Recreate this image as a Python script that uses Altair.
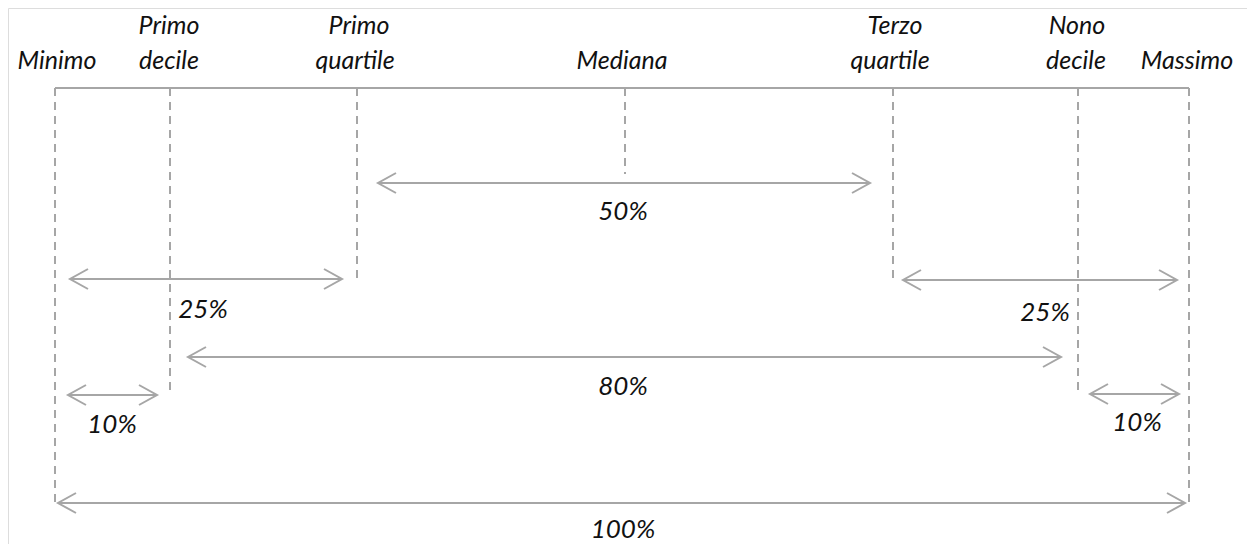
import altair as alt
import pandas as pd

# ---- data (image pixel coordinates) ----
# markers: vertical dashed lines
marker_names = ["Minimo", "Primo decile", "Primo quartile", "Mediana",
                "Terzo quartile", "Nono decile", "Massimo"]
marker_x = [55, 170, 357, 625, 893, 1078, 1189]
marker_bottom = [503, 390, 278, 174, 278, 391, 503]
top_y = 88

# marker labels (one row per text line)
label_text = ["Minimo", "Primo", "decile", "Primo", "quartile", "Mediana",
              "Terzo", "quartile", "Nono", "decile", "Massimo"]
label_x = [57, 169, 169, 359, 355, 622, 895, 890, 1077, 1076, 1187]
label_y = [69, 34, 69, 34, 69, 69, 34, 69, 34, 69, 69]

# arrows
arrow_pct = ["50%", "25%", "25%", "80%", "10%", "10%", "100%"]
arrow_x1 = [378, 70, 903, 188, 68, 1090, 58]
arrow_x2 = [870, 342, 1177, 1061, 157, 1179, 1185]
arrow_y = [183, 279, 280, 357, 395, 394, 503]
pct_x = [623, 203, 1045, 623, 112, 1137, 623]
pct_y = [220, 318, 321, 395, 433, 431, 538]

GRAY = "#a6a6a6"
TXT = "#111111"
FONT = "Lato"

markers = pd.DataFrame({"name": marker_names, "x": marker_x,
                        "y": [top_y] * len(marker_x), "y2": marker_bottom})
labels = pd.DataFrame({"t": label_text, "x": label_x, "y": label_y})
arrows = pd.DataFrame({"p": arrow_pct, "x1": arrow_x1, "x2": arrow_x2, "y": arrow_y})
pcts = pd.DataFrame({"p": arrow_pct, "x": pct_x, "y": pct_y})
heads = pd.DataFrame({
    "x": arrow_x2 + arrow_x1,
    "y": arrow_y + arrow_y,
    "ang": [0] * len(arrow_x2) + [180] * len(arrow_x1),
})
topline = pd.DataFrame({"x": [marker_x[0]], "x2": [marker_x[-1]], "y": [top_y]})

xs = alt.Scale(domain=[8, 1247])
ys = alt.Scale(domain=[8, 544], reverse=True)
X = lambda f: alt.X(f, type="quantitative", scale=xs, axis=None)
Y = lambda f: alt.Y(f, type="quantitative", scale=ys, axis=None)

top = alt.Chart(topline).mark_rule(color=GRAY, strokeWidth=2).encode(
    x=X("x"), x2="x2", y=Y("y"))

vlines = alt.Chart(markers).mark_rule(color=GRAY, strokeWidth=2, strokeDash=[8, 6]).encode(
    x=X("x"), y=Y("y"), y2="y2")

shafts = alt.Chart(arrows).mark_rule(color=GRAY, strokeWidth=2).encode(
    x=X("x1"), x2="x2", y=Y("y"))

chev = alt.Chart(heads).mark_point(
    shape="M-1.8,-1L0,0L-1.8,1", filled=False, stroke=GRAY, strokeWidth=2,
    size=400, opacity=1,
).encode(x=X("x"), y=Y("y"), angle=alt.Angle("ang:Q", scale=None))

lab = alt.Chart(labels).mark_text(
    font=FONT, fontStyle="italic", fontSize=25, color=TXT,
    align="center", baseline="alphabetic",
).encode(x=X("x"), y=Y("y"), text="t:N")

pct = alt.Chart(pcts).mark_text(
    font=FONT, fontStyle="italic", fontSize=26, color=TXT,
    align="center", baseline="alphabetic",
).encode(x=X("x"), y=Y("y"), text="p:N")

chart = alt.layer(top, vlines, shafts, chev, lab, pct).properties(
    width=1239, height=536, padding=0, autosize="none",
).configure_view(stroke=None, strokeWidth=0).configure(background="white")

chart.save("out.html", embed_options={"renderer": "svg", "actions": False})
